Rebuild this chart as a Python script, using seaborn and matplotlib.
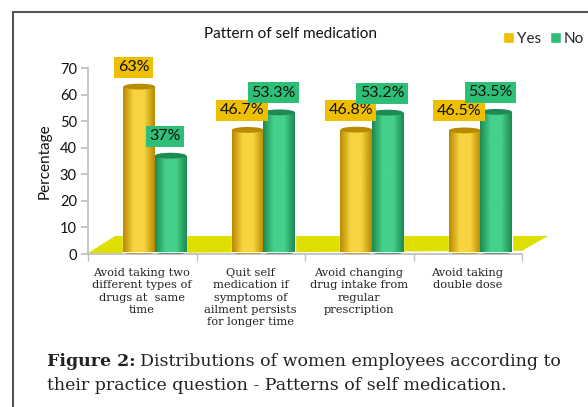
import numpy as np
import pandas as pd
import matplotlib
matplotlib.use('Agg')
import matplotlib.pyplot as plt
import seaborn as sns
from matplotlib.patches import Ellipse, Polygon
from matplotlib.lines import Line2D
from matplotlib.colors import LinearSegmentedColormap

# data
categories = ['Avoid taking two\ndifferent types of\ndrugs at  same\ntime',
              'Quit self\nmedication if\nsymptoms of\nailment persists\nfor longer time',
              'Avoid changing\ndrug intake from\nregular\nprescription',
              'Avoid taking\ndouble dose']
yes = [63, 46.7, 46.8, 46.5]
no = [37, 53.3, 53.2, 53.5]
responses = ['Yes', 'No']

df = pd.DataFrame({
    'Question': categories * 2,
    'Response': ['Yes'] * len(yes) + ['No'] * len(no),
    'Percentage': yes + no,
})

yellow = '#EEBE00'
green = '#2EBF77'
dark = {'Yes': '#B88A00', 'No': '#1C8A52'}
light = {'Yes': '#F7D440', 'No': '#45D08C'}

sns.set_theme(style='white')
plt.rcParams['font.family'] = ['Lato', 'DejaVu Sans']

fig = plt.figure(figsize=(5.88, 4.07), dpi=100)
ax = fig.add_axes([88 / 588, 1 - 254 / 407, (522 - 88) / 588, (254 - 68) / 407])

sns.barplot(data=df, x='Question', y='Percentage', hue='Response',
            palette=[yellow, green], width=0.58, saturation=1, ax=ax, zorder=3)

# bars sit a bit right of the category centre (3D look)
x0, x1 = -0.617, 3.383
ax.set_xlim(x0, x1)
ax.set_ylim(0, 70)

# yellow floor
floor = Polygon([(x0, 0.3), (x1, 1.2), (x1 + 0.24, 6.8), (x0 + 0.25, 6.8)],
                closed=True, facecolor='#DEDE00', edgecolor='none', zorder=1,
                clip_on=False)
ax.add_patch(floor)

# cylinder shading + caps + labels
for cont, resp in zip(ax.containers, responses):
    cmap = LinearSegmentedColormap.from_list(resp, [dark[resp], light[resp], light[resp], dark[resp]])
    for bar, val in zip(cont, df.loc[df.Response == resp, 'Percentage']):
        bx = bar.get_x()
        bw = bar.get_width()
        grad = np.linspace(0, 1, 64).reshape(1, -1)
        im = ax.imshow(grad, extent=[bx, bx + bw, 0.8, val], aspect='auto',
                       cmap=cmap, zorder=3.1)
        im.set_clip_path(bar)
        bar.set_y(0.8)
        bar.set_height(val - 0.8)
        ax.add_patch(Ellipse((bx + bw / 2, 0.8), bw, 2.2, facecolor=dark[resp],
                             edgecolor='none', zorder=2.9))
        ax.add_patch(Ellipse((bx + bw / 2, val), bw, 2.2, facecolor=dark[resp],
                             edgecolor='none', zorder=3.2))
        box_col = yellow if resp == 'Yes' else green
        ax.annotate(f'{val:g}%', (bx + bw / 2, val), xytext=(-4, 9),
                    textcoords='offset points', ha='center', va='bottom',
                    fontsize=11.5, color='#111111', zorder=5,
                    bbox=dict(boxstyle='square,pad=0.22', facecolor=box_col,
                              edgecolor='none'))
ax.set_xlim(x0, x1)
ax.set_ylim(0, 70)

# axes styling
for s in ['top', 'right']:
    ax.spines[s].set_visible(False)
ax.spines['left'].set_color('#BFBFBF')
ax.spines['bottom'].set_color('#BFBFBF')
ax.set_yticks(range(0, 71, 10))
ax.tick_params(axis='y', left=True, length=5, color='#BFBFBF', labelsize=10.5,
               pad=3, labelcolor='#111111')
ax.set_xticks([i - 0.12 for i in range(len(categories))])
ax.set_xticklabels(categories, fontsize=8.2, family='DejaVu Serif', color='#222222',
                   linespacing=1.3, va='top')
ax.set_xticks([x0 + i for i in range(len(categories) + 1)], minor=True)
ax.tick_params(axis='x', which='major', length=0, pad=10)
ax.tick_params(axis='x', which='minor', bottom=True, length=5, color='#BFBFBF')
ax.set_xlabel('')
ax.set_ylabel('Percentage', fontsize=11, color='#111111', labelpad=6)

fig.text(290 / 588, 1 - 34 / 407, 'Pattern of self medication', ha='center',
         va='center', fontsize=11, color='#111111')

leg = ax.legend(loc='center left', bbox_to_anchor=(503 / 588, 1 - 39 / 407),
                bbox_transform=fig.transFigure, ncol=2, frameon=False,
                handlelength=0.7, handleheight=0.7, columnspacing=0.6,
                handletextpad=0.2, fontsize=11, borderaxespad=0, borderpad=0)

# frame lines of the figure panel
fig.add_artist(Line2D([13 / 588, 13 / 588], [0, 1 - 12 / 407], color='#555555', lw=1.5))
fig.add_artist(Line2D([13 / 588, 1], [1 - 12 / 407, 1 - 12 / 407], color='#555555', lw=1.5))

# caption
t1 = fig.text(47 / 588, 1 - 362 / 407, 'Figure 2:', ha='left', va='center',
              fontsize=12.5, family='DejaVu Serif', weight='bold', color='#222222')
fig.canvas.draw()
bb = t1.get_window_extent()
fig.text((bb.x1 + 4) / 588, 1 - 362 / 407, 'Distributions of women employees according to',
         ha='left', va='center', fontsize=12.5, family='DejaVu Serif', color='#222222')
fig.text(47 / 588, 1 - 385 / 407, 'their practice question - Patterns of self medication.',
         ha='left', va='center', fontsize=12.5, family='DejaVu Serif', color='#222222')

fig.savefig('out.png', dpi=100)
